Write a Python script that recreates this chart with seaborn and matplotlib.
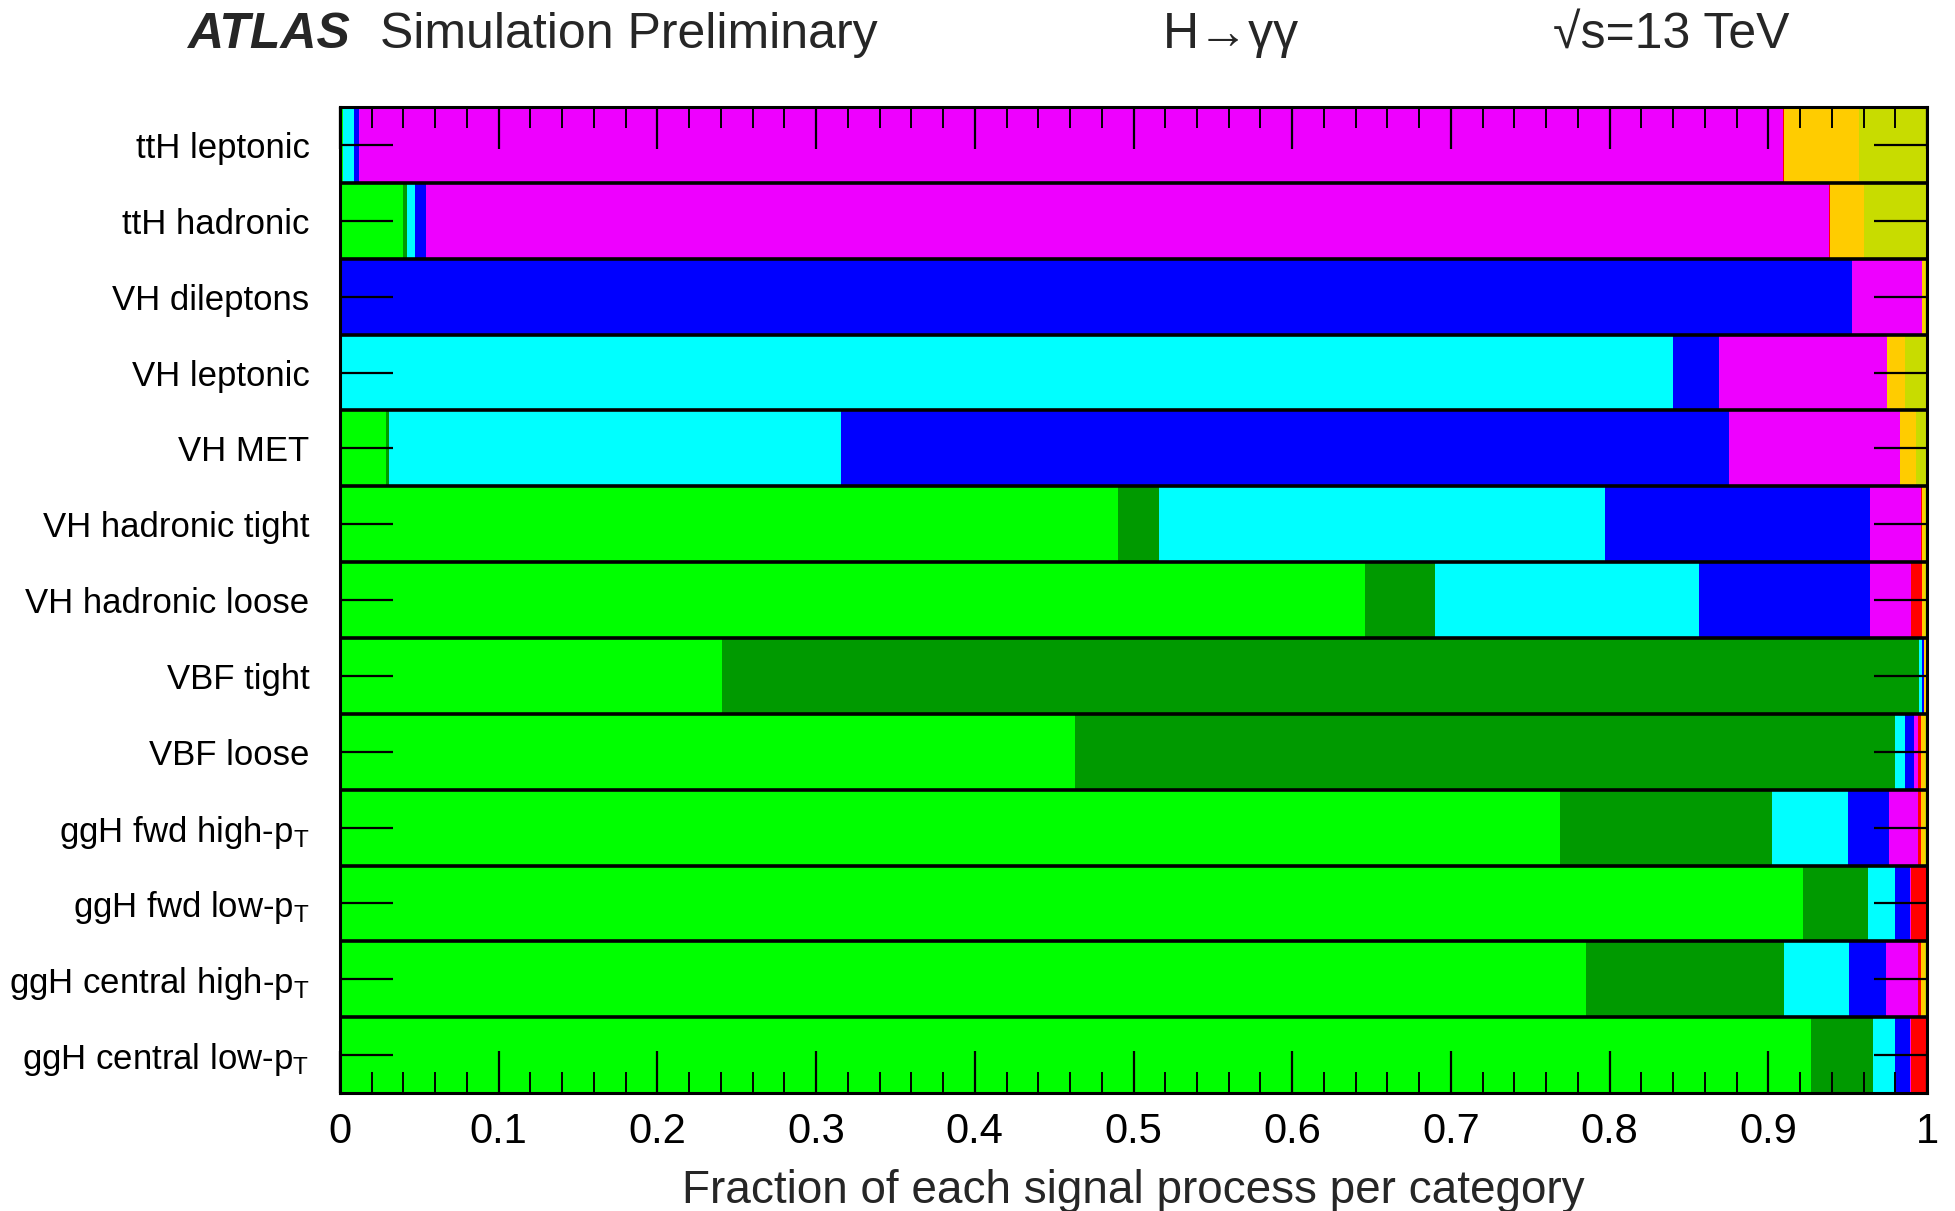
import numpy as np
import pandas as pd
import matplotlib
matplotlib.use("Agg")
import matplotlib.pyplot as plt
from matplotlib.ticker import MultipleLocator
import seaborn as sns

# Event categories, listed top to bottom
categories = [
    "ttH leptonic",
    "ttH hadronic",
    "VH dileptons",
    "VH leptonic",
    "VH MET",
    "VH hadronic tight",
    "VH hadronic loose",
    "VBF tight",
    "VBF loose",
    "ggH fwd high-p$_\\mathregular{T}$",
    "ggH fwd low-p$_\\mathregular{T}$",
    "ggH central high-p$_\\mathregular{T}$",
    "ggH central low-p$_\\mathregular{T}$",
]

# Fraction of each signal process in every category (same order as categories)
ggH  = [0.002, 0.040, 0.000, 0.001, 0.029, 0.490, 0.646, 0.241, 0.463, 0.769, 0.922, 0.785, 0.927]
VBF  = [0.000, 0.002, 0.000, 0.000, 0.002, 0.026, 0.044, 0.754, 0.517, 0.133, 0.041, 0.125, 0.039]
WH   = [0.007, 0.005, 0.000, 0.839, 0.285, 0.281, 0.166, 0.002, 0.006, 0.048, 0.017, 0.041, 0.014]
ZH   = [0.003, 0.007, 0.953, 0.029, 0.559, 0.167, 0.108, 0.001, 0.006, 0.026, 0.009, 0.023, 0.009]
ttH  = [0.897, 0.884, 0.044, 0.106, 0.108, 0.032, 0.026, 0.000, 0.002, 0.018, 0.001, 0.020, 0.001]
bbH  = [0.001, 0.001, 0.000, 0.000, 0.000, 0.001, 0.007, 0.000, 0.002, 0.002, 0.010, 0.002, 0.010]
tHjb = [0.047, 0.021, 0.002, 0.011, 0.010, 0.002, 0.002, 0.002, 0.003, 0.003, 0.000, 0.003, 0.000]
tWH  = [0.043, 0.040, 0.001, 0.014, 0.007, 0.001, 0.001, 0.000, 0.001, 0.001, 0.000, 0.001, 0.000]

process_names = ["ggH", "VBF", "WH", "ZH", "ttH", "bbH", "tHjb", "tWH"]
process_values = [ggH, VBF, WH, ZH, ttH, bbH, tHjb, tWH]
process_colors = ["#00ff00", "#009a00", "#00ffff", "#0000ff",
                  "#ee00ff", "#ff0000", "#ffcc00", "#c8dc00"]

df = pd.DataFrame({name: vals for name, vals in zip(process_names, process_values)})
df.insert(0, "category", categories)
cum = df[process_names].cumsum(axis=1)

sns.set_style("white")
plt.rcParams["font.family"] = ["Liberation Sans", "DejaVu Sans"]
plt.rcParams["mathtext.fontset"] = "custom"
plt.rcParams["mathtext.rm"] = "Liberation Sans"
plt.rcParams["mathtext.it"] = "Liberation Sans:italic"
plt.rcParams["mathtext.bf"] = "Liberation Sans:bold"
plt.rcParams["axes.axisbelow"] = False

fig = plt.figure(figsize=(19.56, 12.11), dpi=100)
ax = fig.add_axes([0.1738, 0.0974, 0.8114, 0.8142])

# Stacked horizontal bars: draw cumulative totals from the last process to the first
for name, color in reversed(list(zip(process_names, process_colors))):
    sns.barplot(x=cum[name], y=df["category"], orient="h", color=color,
                width=1.0, saturation=1, linewidth=0, ax=ax)

ax.set_axisbelow(False)
ax.set_xlim(0, 1)
ax.set_ylim(len(categories) - 0.5, -0.5)

# Black separators between categories
for k in range(len(categories) - 1):
    ax.axhline(k + 0.5, color="black", lw=2.6, zorder=5)

for s in ax.spines.values():
    s.set_linewidth(2.2)
    s.set_color("black")
    s.set_zorder(6)

ax.set_xticks(np.round(np.arange(0, 1.01, 0.1), 1))
ax.xaxis.set_minor_locator(MultipleLocator(0.02))
ax.set_xticklabels(["0"] + [f"{v:.1f}" for v in np.arange(0.1, 0.95, 0.1)] + ["1"])
ax.tick_params(axis="x", which="major", direction="in", length=30, width=1.6,
               top=True, bottom=True, labelsize=30, pad=14, colors="black")
ax.tick_params(axis="x", which="minor", direction="in", length=15, width=1.4,
               top=True, bottom=True, colors="black")
ax.tick_params(axis="y", which="major", direction="in", length=38, width=1.6,
               left=True, right=True, labelsize=25, pad=22, colors="black")
ax.xaxis.set_zorder(7)
ax.yaxis.set_zorder(7)

ax.set_ylabel("")
ax.set_xlabel("Fraction of each signal process per category", fontsize=33, labelpad=12)

# Header line
fig.text(187 / 1956, 0.971, "ATLAS", fontsize=36, fontweight="bold", fontstyle="italic",
         ha="left", va="center")
fig.text(380 / 1956, 0.971, "Simulation Preliminary", fontsize=36, ha="left", va="center")
fig.text(1163 / 1956, 0.971, "H\u2192\u03b3\u03b3", fontsize=36, ha="left", va="center")
fig.text(1553 / 1956, 0.971, "\u221as=13 TeV", fontsize=36, ha="left", va="center")

fig.savefig("out.png", dpi=100, facecolor="white")
